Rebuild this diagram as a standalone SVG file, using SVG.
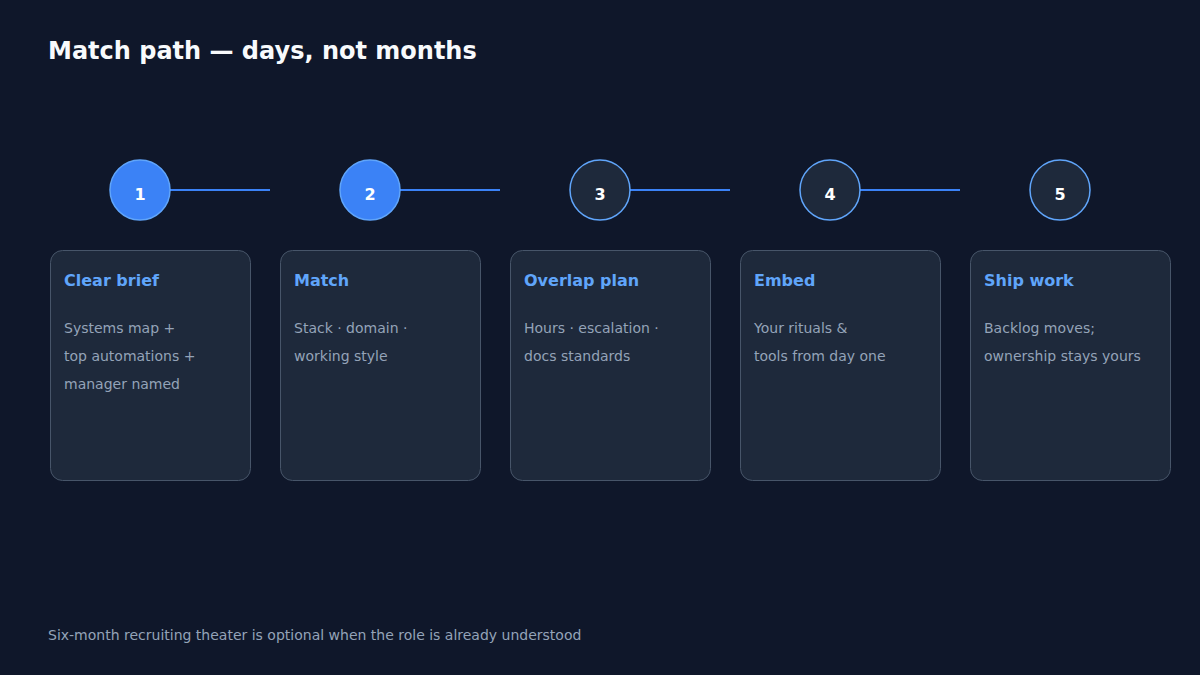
<svg xmlns="http://www.w3.org/2000/svg" width="1200" height="675" viewBox="0 0 1200 675">
<style>
text{font-family:"DejaVu Sans","Liberation Sans",sans-serif}
.title{font-size:24px;font-weight:bold;fill:#f8fafc}
.foot{font-size:14px;fill:#94a3b8}
.card{fill:#1e293b;stroke:#475569;stroke-width:1}
.ct{font-size:16px;font-weight:bold;fill:#60a5fa}
.cb{font-size:14px;fill:#94a3b8}
.num{font-size:16px;font-weight:bold;fill:#ffffff;text-anchor:middle}
.on{fill:#3b82f6;stroke:#60a5fa;stroke-width:1.5}
.off{fill:#1e293b;stroke:#60a5fa;stroke-width:1.5}
.link{stroke:#3b82f6;stroke-width:2;fill:none}
</style>
<rect width="1200" height="675" fill="#0f172a"/>
<text class="title" x="48" y="59">Match path — days, not months</text>
<g id="connectors">
<line class="link" x1="170" y1="190" x2="270" y2="190"/>
<line class="link" x1="400" y1="190" x2="500" y2="190"/>
<line class="link" x1="630" y1="190" x2="730" y2="190"/>
<line class="link" x1="860" y1="190" x2="960" y2="190"/>
</g>
<g id="step1">
<circle class="on" cx="140" cy="190" r="30"/>
<text class="num" x="140" y="200">1</text>
<rect class="card" x="50.5" y="250.5" width="200" height="230" rx="12"/>
<text class="ct" x="64" y="286">Clear brief</text>
<text class="cb" x="64" y="333">Systems map +</text>
<text class="cb" x="64" y="361">top automations +</text>
<text class="cb" x="64" y="389">manager named</text>
</g>
<g id="step2">
<circle class="on" cx="370" cy="190" r="30"/>
<text class="num" x="370" y="200">2</text>
<rect class="card" x="280.5" y="250.5" width="200" height="230" rx="12"/>
<text class="ct" x="294" y="286">Match</text>
<text class="cb" x="294" y="333">Stack · domain ·</text>
<text class="cb" x="294" y="361">working style</text>
</g>
<g id="step3">
<circle class="off" cx="600" cy="190" r="30"/>
<text class="num" x="600" y="200">3</text>
<rect class="card" x="510.5" y="250.5" width="200" height="230" rx="12"/>
<text class="ct" x="524" y="286">Overlap plan</text>
<text class="cb" x="524" y="333">Hours · escalation ·</text>
<text class="cb" x="524" y="361">docs standards</text>
</g>
<g id="step4">
<circle class="off" cx="830" cy="190" r="30"/>
<text class="num" x="830" y="200">4</text>
<rect class="card" x="740.5" y="250.5" width="200" height="230" rx="12"/>
<text class="ct" x="754" y="286">Embed</text>
<text class="cb" x="754" y="333">Your rituals &amp;</text>
<text class="cb" x="754" y="361">tools from day one</text>
</g>
<g id="step5">
<circle class="off" cx="1060" cy="190" r="30"/>
<text class="num" x="1060" y="200">5</text>
<rect class="card" x="970.5" y="250.5" width="200" height="230" rx="12"/>
<text class="ct" x="984" y="286">Ship work</text>
<text class="cb" x="984" y="333">Backlog moves;</text>
<text class="cb" x="984" y="361">ownership stays yours</text>
</g>
<text class="foot" x="48" y="640">Six-month recruiting theater is optional when the role is already understood</text>
</svg>
